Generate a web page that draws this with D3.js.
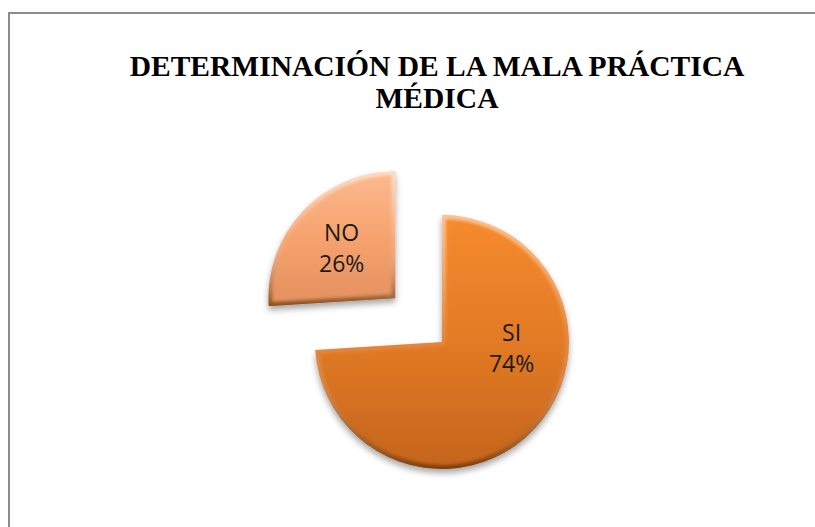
<!DOCTYPE html>
<html>
<head>
<meta charset="utf-8">
<script src="https://cdn.jsdelivr.net/npm/d3@7"></script>
<style>
	body { margin: 0; background: #fff; }
	.title { font-family: 'Liberation Serif', 'Times New Roman', serif; font-weight: bold; font-size: 29.5px; fill: #000; }
	.slice-label { font-family: 'Open Sans', 'Liberation Sans', sans-serif; font-size: 23px; fill: #1a1a1a; }
</style>
</head>
<body>
<svg width="815" height="527"></svg>
<script>
const labels = ['SI', 'NO'];
const values = [74, 26];
const titleLines = ['DETERMINACIÓN DE LA MALA PRÁCTICA', 'MÉDICA'];

const svg = d3.select('svg');
const width = +svg.attr('width');
const height = +svg.attr('height');

const cx = 442;
const cy = 342;
const radius = 127;
const explode = 64;

const fills = {
	SI: ['#f68b2e', '#e27a25', '#c4641d'],
	NO: ['#fbba8f', '#f6a26e', '#e3905f']
};

// chart frame (only the top and left edges are visible)
svg.append('path')
	.attr('d', `M9,${height} V13 H${width}`)
	.attr('fill', 'none')
	.attr('stroke', '#8c8c8c')
	.attr('stroke-width', 2);

const title = svg.append('text')
	.attr('class', 'title')
	.attr('text-anchor', 'middle');

title.selectAll('tspan').data(titleLines)
	.enter().append('tspan')
		.attr('x', 437)
		.attr('y', (d, i) => 76 + i * 32)
		.text(d => d);

const defs = svg.append('defs');

const shadow = defs.append('filter')
	.attr('id', 'shadow')
	.attr('x', '-20%').attr('y', '-20%')
	.attr('width', '140%').attr('height', '140%');
shadow.append('feDropShadow')
	.attr('dx', 0).attr('dy', 4)
	.attr('stdDeviation', 3)
	.attr('flood-color', '#000')
	.attr('flood-opacity', 0.35);

const soften = defs.append('filter').attr('id', 'soften');
soften.append('feGaussianBlur').attr('stdDeviation', 1.6);

labels.forEach(k => {
	const g = defs.append('linearGradient')
		.attr('id', `fill-${k}`)
		.attr('x1', 0).attr('y1', 0).attr('x2', 0).attr('y2', 1);
	g.selectAll('stop').data(fills[k])
		.enter().append('stop')
			.attr('offset', (d, i) => i / (fills[k].length - 1))
			.attr('stop-color', d => d);

	const b = defs.append('linearGradient')
		.attr('id', `bevel-${k}`)
		.attr('x1', 0).attr('y1', 0).attr('x2', 0).attr('y2', 1);
	b.append('stop').attr('offset', 0).attr('stop-color', '#fff').attr('stop-opacity', 0.5);
	b.append('stop').attr('offset', 0.5).attr('stop-color', '#fff').attr('stop-opacity', 0.08);
	b.append('stop').attr('offset', 1).attr('stop-color', '#5a2a00').attr('stop-opacity', 0.65);
});

const data = labels.map((label, i) => ({label, value: values[i]}));

const pie = d3.pie()
	.value(d => d.value)
	.sort(null);

const arcs = pie(data);

const arc = d3.arc()
	.innerRadius(0)
	.outerRadius(radius);

const labelArc = d3.arc()
	.innerRadius(radius * 0.58)
	.outerRadius(radius * 0.58);

// the large slice stays in place, the small one is pulled out
const offset = d => {
	if (d.data.label !== 'NO') return [0, 0];
	const a = (d.startAngle + d.endAngle) / 2;
	return [Math.sin(a) * explode, -Math.cos(a) * explode];
};

// Excel pushes the large slice's label towards the right
const labelAngle = {SI: 95 * Math.PI / 180};

const pieG = svg.append('g')
	.attr('transform', `translate(${cx}, ${cy})`);

const slices = pieG.selectAll('g.slice').data(arcs)
	.enter().append('g')
		.attr('class', 'slice')
		.attr('transform', d => `translate(${offset(d)})`);

slices.append('clipPath')
	.attr('id', d => `clip-${d.data.label}`)
	.append('path')
		.attr('d', arc);

slices.append('path')
	.attr('d', arc)
	.attr('fill', d => `url(#fill-${d.data.label})`)
	.attr('filter', 'url(#shadow)');

slices.append('path')
	.attr('d', arc)
	.attr('fill', 'none')
	.attr('stroke', d => `url(#bevel-${d.data.label})`)
	.attr('stroke-width', 8)
	.attr('stroke-linejoin', 'round')
	.attr('clip-path', d => `url(#clip-${d.data.label})`)
	.attr('filter', 'url(#soften)');

const labelPos = d => {
	const a = labelAngle[d.data.label];
	if (a === undefined) return labelArc.centroid(d);
	const r = radius * 0.55;
	return [Math.sin(a) * r, -Math.cos(a) * r];
};

const labelText = slices.append('text')
	.attr('class', 'slice-label')
	.attr('text-anchor', 'middle')
	.attr('transform', d => `translate(${labelPos(d)})`);

labelText.append('tspan')
	.attr('x', 0)
	.attr('y', -7)
	.text(d => d.data.label);

labelText.append('tspan')
	.attr('x', 0)
	.attr('y', 24)
	.text(d => `${d.data.value}%`);
</script>
</body>
</html>
